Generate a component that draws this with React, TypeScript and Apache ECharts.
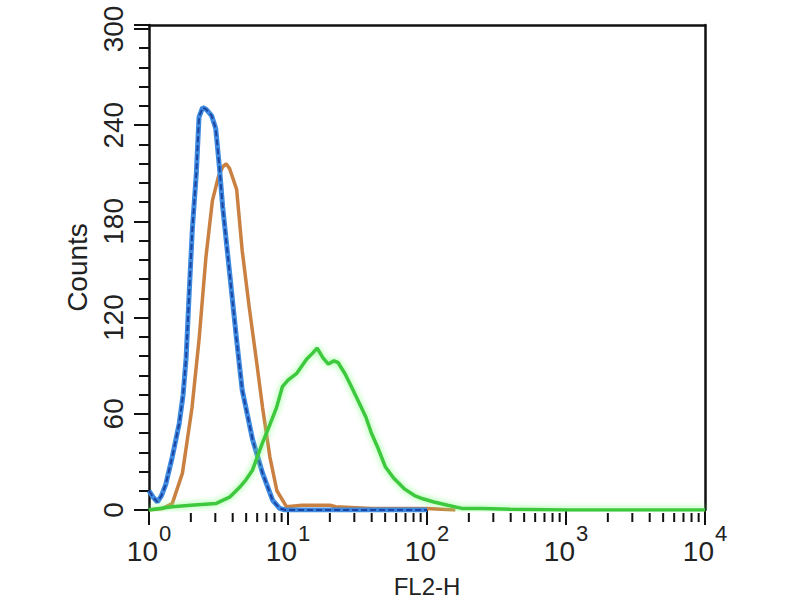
import React, { useEffect, useRef } from "react";
import * as echarts from "echarts";

const FONT = "'Liberation Sans', Arial, Helvetica, sans-serif";

// FL2-H value, Counts
const blueData: [number, number][] = [
  [1.0, 12], [1.07, 8], [1.15, 5], [1.23, 9], [1.32, 16], [1.47, 33], [1.65, 54],
  [1.76, 72], [1.85, 95], [1.95, 137], [2.05, 175], [2.19, 210], [2.29, 245],
  [2.43, 251], [2.57, 250], [2.82, 246], [3.02, 238], [3.21, 214], [3.39, 189],
  [3.8, 148], [4.27, 106], [4.68, 75], [5.56, 44], [6.56, 23], [7.76, 6],
  [8.71, 1], [9.55, 0], [20, 0], [100, 0],
];

const orangeData: [number, number][] = [
  [1.0, 0], [1.26, 1], [1.47, 4], [1.74, 23], [2.04, 64], [2.29, 106], [2.57, 158],
  [2.86, 193], [3.16, 208], [3.39, 214], [3.59, 216], [3.8, 213], [4.27, 200],
  [4.68, 162], [5.25, 127], [5.89, 95], [6.56, 64], [7.41, 33], [8.32, 12],
  [9.77, 2], [12.6, 3], [20, 3], [22, 2], [40, 1], [100, 1], [160, 0],
];

const greenData: [number, number][] = [
  [1.0, 0], [1.47, 2], [2.0, 3], [3.02, 4], [3.8, 8], [4.47, 14], [5.0, 19],
  [5.56, 25], [6.56, 42], [7.01, 48], [8.28, 64], [9.12, 77], [10, 81],
  [11.5, 85], [13.6, 94], [15.1, 98], [16.2, 101], [17.8, 95], [19.5, 91],
  [21.4, 93], [22.9, 92], [25.7, 85], [28.2, 78], [32.4, 67], [36.3, 58],
  [39.8, 48], [44.7, 38], [50.1, 27], [57.5, 20], [69.2, 13], [81.3, 9],
  [93.3, 7], [112, 5], [141, 3], [178, 1], [251, 1], [398, 0.5], [1000, 0],
  [10000, 0],
];

const xMinorTicks: number[] = [
  2, 3, 4, 5, 6, 7, 8, 9,
  20, 30, 40, 50, 60, 70, 80, 90,
  200, 300, 400, 500, 600, 700, 800, 900,
  2000, 3000, 4000, 5000, 6000, 7000, 8000, 9000,
];

const yTicks = { min: 0, max: 302.5, interval: 60 };

export default function App() {
  const ref = useRef<HTMLDivElement>(null);
  useEffect(() => {
    document.body.style.margin = "0";
    if (!ref.current) return;
    const chart = echarts.init(ref.current, null, { renderer: "svg" });
    const axisColor = "#111";
    chart.setOption({
      animation: false,
      backgroundColor: "#ffffff",
      grid: {
        left: 149, top: 25, width: 556, height: 485,
        containLabel: false, outerBoundsMode: "none",
      },
      xAxis: [
        {
          type: "log",
          logBase: 10,
          min: 1,
          max: 10000,
          offset: 3,
          axisLine: { show: false },
          axisTick: { show: true, length: 15, lineStyle: { color: axisColor, width: 2 } },
          splitLine: { show: false },
          axisLabel: {
            margin: 9,
            formatter: (v: number) => `{b|10}{s|${Math.round(Math.log10(v))}}`,
            rich: {
              b: { fontSize: 28, lineHeight: 58, fontFamily: FONT, color: "#222" },
              s: { fontSize: 22, lineHeight: 22, fontFamily: FONT, color: "#222", verticalAlign: "top", padding: [0, 0, 0, 1] },
            },
          },
          name: "FL2-H",
          nameLocation: "middle",
          nameGap: 63,
          nameTextStyle: { fontSize: 24, lineHeight: 20, fontFamily: FONT, color: "#222" },
        },
        {
          type: "value",
          position: "top",
          min: 0,
          max: 1,
          axisLine: { show: true, onZero: false, lineStyle: { color: axisColor, width: 2.5 } },
          axisTick: { show: false },
          axisLabel: { show: false },
          splitLine: { show: false },
        },
      ],
      yAxis: [
        {
          type: "value",
          min: yTicks.min,
          max: yTicks.max,
          interval: yTicks.interval,
          axisLine: { show: true, lineStyle: { color: axisColor, width: 2.5 } },
          axisTick: { show: true, length: 15, lineStyle: { color: axisColor, width: 2 } },
          minorTick: { show: true, splitNumber: 5, length: 10, lineStyle: { color: axisColor, width: 2 } },
          splitLine: { show: false },
          axisLabel: { rotate: 90, margin: 22, fontSize: 28, fontFamily: FONT, color: "#222" },
          name: "Counts",
          nameLocation: "middle",
          nameRotate: 90,
          nameGap: 54,
          nameTextStyle: { fontSize: 28, fontFamily: FONT, color: "#222" },
        },
        {
          type: "value",
          position: "right",
          min: 0,
          max: 1,
          axisLine: { show: true, onZero: false, lineStyle: { color: axisColor, width: 2.5 } },
          axisTick: { show: false },
          axisLabel: { show: false },
          splitLine: { show: false },
        },
      ],
      series: [
        {
          type: "custom",
          xAxisIndex: 0,
          yAxisIndex: 0,
          clip: false,
          silent: true,
          data: xMinorTicks.map((v) => [v, 0]),
          renderItem: (params: any, api: any) => {
            const p = api.coord([api.value(0), 0]);
            return {
              type: "line",
              shape: { x1: p[0], y1: p[1] + 3, x2: p[0], y2: p[1] + 12 },
              style: { stroke: axisColor, lineWidth: 2 },
            };
          },
        },
        {
          type: "line",
          name: "orange",
          data: orangeData,
          showSymbol: false,
          lineStyle: { color: "#c98040", width: 3.5 },
        },
        {
          type: "line",
          name: "blueLight",
          data: blueData,
          showSymbol: false,
          lineStyle: { color: "#3d8ae0", width: 5 },
        },
        {
          type: "line",
          name: "blueDark",
          data: blueData,
          showSymbol: false,
          lineStyle: { color: "#1c44a0", width: 2, type: [6, 3] },
        },
        {
          type: "line",
          name: "green",
          data: greenData,
          showSymbol: false,
          lineStyle: {
            color: "#3cc83c",
            width: 3.5,
            shadowBlur: 6,
            shadowColor: "rgba(120,255,120,0.9)",
          },
        },
      ],
    });
    return () => chart.dispose();
  }, []);
  return <div ref={ref} style={{ width: 800, height: 600 }} />;
}
